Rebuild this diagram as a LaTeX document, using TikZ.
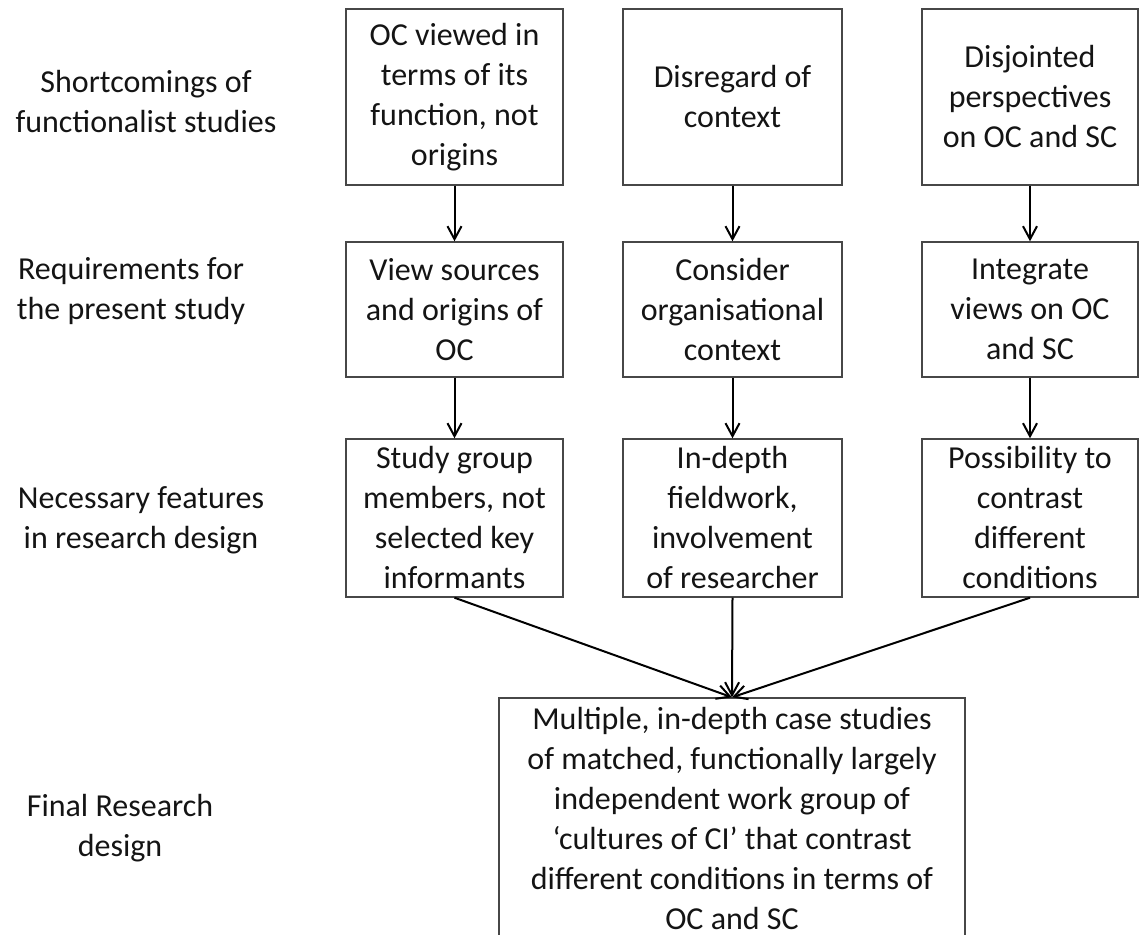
\documentclass[tikz,border=0pt]{standalone}
\usepackage{fontspec}
\setmainfont{Carlito}
\usetikzlibrary{arrows.meta}
\begin{document}
\begin{tikzpicture}[x=0.5pt,y=-0.5pt,
  box/.style={draw=black!72, line width=0.7pt, align=center, inner sep=0pt,
    font=\fontsize{16}{20}\selectfont, text=black!92},
  lbl/.style={align=center, inner sep=0pt, font=\fontsize{16}{20}\selectfont, text=black!92},
  link/.style={line width=1pt, -{Straight Barb[length=6.5pt,width=7pt]}}]
\useasboundingbox (0,0) rectangle (1139,935);

% row labels
\node[lbl] (l1) at (146,102) {Shortcomings of\\functionalist studies};
\node[lbl] (l2) at (131,291) {Requirements for\\the present study};
\node[lbl] (l3) at (141,520) {Necessary features\\in research design};
\node[lbl] (l4) at (120,828) {Final Research\\design};

% shortcomings
\node[box, minimum width=108.5pt, minimum height=88pt] (a1) at (454.5,97) {OC viewed in\\terms of its\\function, not\\origins};
\node[box, minimum width=109.5pt, minimum height=88pt] (a2) at (732.5,97) {Disregard of\\context};
\node[box, minimum width=108pt, minimum height=88pt] (a3) at (1030,97) {Disjointed\\perspectives\\on OC and SC};

% requirements
\node[box, minimum width=108.5pt, minimum height=67.5pt] (b1) at (454.5,309.5) {View sources\\and origins of\\OC};
\node[box, minimum width=109.5pt, minimum height=67.5pt] (b2) at (732.5,309.5) {Consider\\organisational\\context};
\node[box, minimum width=108pt, minimum height=67.5pt] (b3) at (1030,309.5) {Integrate\\views on OC\\and SC};

% features
\node[box, minimum width=108.5pt, minimum height=79pt] (c1) at (454.5,518) {Study group\\members, not\\selected key\\informants};
\node[box, minimum width=109.5pt, minimum height=79pt] (c2) at (732.5,518) {In-depth\\fieldwork,\\involvement\\of researcher};
\node[box, minimum width=108pt, minimum height=79pt] (c3) at (1030,518) {Possibility to\\contrast\\different\\conditions};

% final design
\node[box, minimum width=233pt, minimum height=120pt] (d) at (732,818)
  {Multiple, in-depth case studies\\of matched, functionally largely\\independent work group of\\`cultures of CI' that contrast\\different conditions in terms of\\OC and SC};

% connectors
\foreach \i in {1,2,3} {
  \draw[link] (a\i.south) -- (b\i.north);
  \draw[link] (b\i.south) -- (c\i.north);
  \draw[link] (c\i.south) -- (d.north);
}
\end{tikzpicture}
\end{document}
